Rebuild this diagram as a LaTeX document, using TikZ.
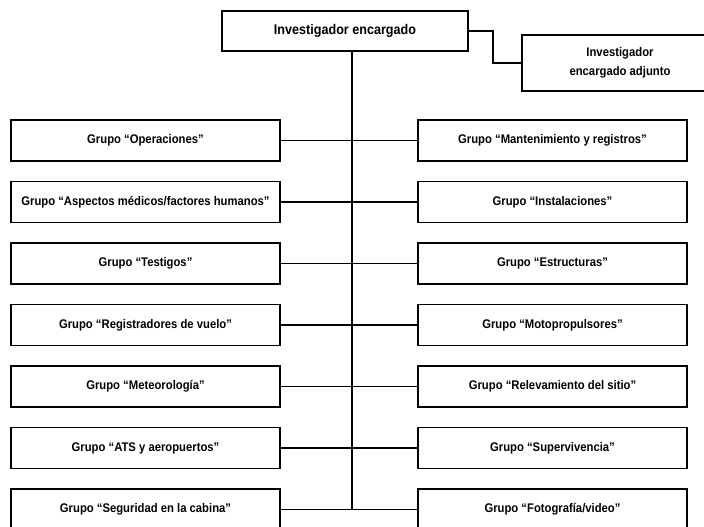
\documentclass[tikz,border=0pt]{standalone}
\usepackage{fontspec}
\setmainfont{Liberation Sans}[BoldFont={Liberation Sans Bold},BoldFeatures={FakeStretch=0.9}]
\begin{document}
\begin{tikzpicture}[x=0.75pt,y=-0.75pt,
  box/.style={draw,line width=0.9pt,rectangle,inner sep=0pt,font=\fontsize{9.4pt}{14pt}\selectfont\bfseries,align=center},
  grp/.style={box,minimum width=201.75pt,minimum height=30.75pt},
  conn/.style={line width=0.9pt}]
\useasboundingbox (0,0) rectangle (704,527);
\clip (0,0) rectangle (704,527);
\node[box,minimum width=184.5pt,minimum height=30pt,font=\fontsize{10.5pt}{12pt}\selectfont\bfseries] (top) at (345,31) {Investigador encargado};
\node[box,minimum width=147pt,minimum height=42pt] (adj) at (620,63) {Investigador\\encargado adjunto};
\coordinate (tb) at (352,509.5);
\coordinate (bend) at (493,31);
\foreach \i/\lt/\rt in {1/Operaciones/Mantenimiento y registros,
  2/Aspectos médicos\slash factores humanos/Instalaciones,
  3/Testigos/Estructuras,
  4/Registradores de vuelo/Motopropulsores,
  5/Meteorología/Relevamiento del sitio,
  6/ATS y aeropuertos/Supervivencia,
  7/Seguridad en la cabina/Fotografía\slash video}{
  \node[grp] (L\i) at (145.5,{140.5+61.5*(\i-1)}) {Grupo “\lt”};
  \node[grp] (R\i) at (552.5,{140.5+61.5*(\i-1)}) {Grupo “\rt”};
  \draw[conn] (L\i.east) -- (R\i.west);
}
\draw[conn] (top.south -| tb) -- (tb);
\draw[conn] (top.east) -- (bend) |- (adj.west);
\end{tikzpicture}
\end{document}
